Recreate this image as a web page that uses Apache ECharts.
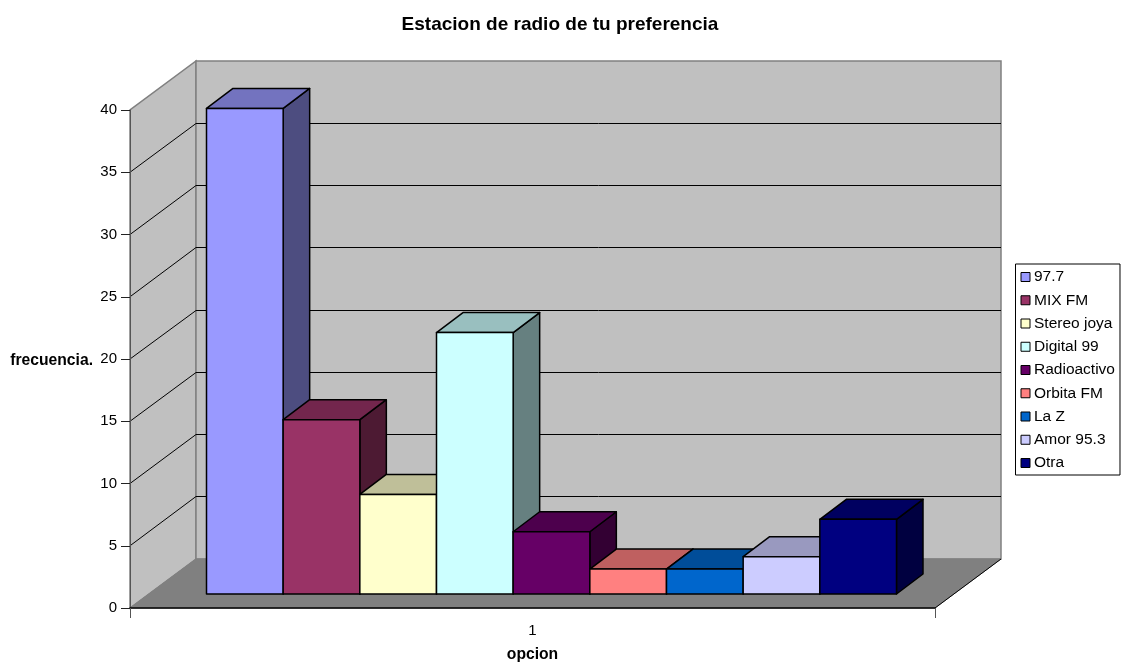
<!DOCTYPE html>
<html><head><meta charset="utf-8">
<style>html,body{margin:0;padding:0;background:#fff}#c{width:1121px;height:664px}</style>
<script src="https://cdn.jsdelivr.net/npm/echarts@6/dist/echarts.min.js"></script>
</head><body><div id="c"></div>
<script>
const categories = ['1'];
const yTicks = [0, 5, 10, 15, 20, 25, 30, 35, 40];
const stations = ['97.7','MIX FM','Stereo joya','Digital 99','Radioactivo','Orbita FM','La Z','Amor 95.3','Otra'];
const values = [39, 14, 8, 21, 5, 2, 2, 3, 6];
const colors = ['#9999FF','#993366','#FFFFCC','#CCFFFF','#660066','#FF8080','#0066CC','#CCCCFF','#000080'];

const WALL = {dx: 66, dy: -49};
const FRONT = {dx: 19, dy: -14};
const DEPTH = {dx: 26.5, dy: -20};
const GAP_BARS = 1.5;

function shade(hex, f) {
  const n = parseInt(hex.slice(1), 16);
  const c = [(n >> 16) & 255, (n >> 8) & 255, n & 255].map(v => Math.round(v * f));
  return 'rgb(' + c.join(',') + ')';
}

function wallItem(params, api) {
  const y = api.value(0);
  const c = api.coord([0, y]);
  const halfW = api.size([1, 0])[0] / 2;
  const x0 = c[0] - halfW, x1 = c[0] + halfW;
  const p0 = api.coord([0, 0])[1], pTop = api.coord([0, yTicks[yTicks.length - 1]])[1];
  const kids = [];
  const poly = (pts, fill, stroke, w) => ({type: 'polygon', shape: {points: pts},
    style: {fill: fill, stroke: stroke, lineWidth: w === undefined ? 1 : w}});
  const line = (a, b, stroke, w) => ({type: 'polyline', shape: {points: [a, b]},
    style: {fill: null, stroke: stroke, lineWidth: w}});
  if (params.dataIndex === 0) {
    kids.push(poly([[x0, p0], [x0 + WALL.dx, p0 + WALL.dy], [x0 + WALL.dx, pTop + WALL.dy], [x0, pTop]], '#C0C0C0', '#808080', 1.5));
    kids.push(poly([[x0 + WALL.dx, p0 + WALL.dy], [x1 + WALL.dx, p0 + WALL.dy], [x1 + WALL.dx, pTop + WALL.dy], [x0 + WALL.dx, pTop + WALL.dy]], '#C0C0C0', '#808080', 1.5));
    kids.push(poly([[x0, p0], [x1, p0], [x1 + WALL.dx, p0 + WALL.dy], [x0 + WALL.dx, p0 + WALL.dy]], '#808080', '#808080', 1));
    kids.push(line([x1, p0], [x1 + WALL.dx, p0 + WALL.dy], '#000', 1));
  }
  if (y > 0 && y < yTicks[yTicks.length - 1]) {
    const yy = Math.floor(c[1] + WALL.dy) + 0.5;
    kids.push({type: 'polyline', shape: {points: [[x0, c[1]], [x0 + WALL.dx, yy], [x1 + WALL.dx, yy]]},
      style: {fill: null, stroke: '#000', lineWidth: 1}});
  }
  return {type: 'group', children: kids};
}

function barItemFor(i) {
  return function (params, api) {
    const v = api.value(1);
    const base = api.coord([0, 0]);
    const top = api.coord([0, v]);
    const band = api.size([1, 0])[0];
    const w = band / (stations.length + GAP_BARS);
    const left = base[0] + FRONT.dx + (i - stations.length / 2) * w;
    const right = left + w;
    const yb = base[1] + FRONT.dy, yt = top[1] + FRONT.dy;
    const d = DEPTH;
    const st = {stroke: '#000', lineWidth: 1.5, lineJoin: 'round'};
    const face = (pts, fill) => ({type: 'polygon', shape: {points: pts}, style: Object.assign({fill: fill}, st)});
    return {type: 'group', children: [
      face([[right, yb], [right + d.dx, yb + d.dy], [right + d.dx, yt + d.dy], [right, yt]], shade(colors[i], 0.5)),
      face([[left, yt], [right, yt], [right + d.dx, yt + d.dy], [left + d.dx, yt + d.dy]], shade(colors[i], 0.75)),
      face([[left, yb], [right, yb], [right, yt], [left, yt]], colors[i])
    ]};
  };
}

const series = [{
  name: 'walls', type: 'custom', z: 1, silent: true, clip: false,
  renderItem: wallItem, data: yTicks.map(t => [t]), encode: {y: 0}
}].concat(stations.map((s, i) => ({
  name: s, type: 'custom', z: 2, clip: false,
  itemStyle: {color: colors[i], borderColor: '#000', borderWidth: 1},
  renderItem: barItemFor(i),
  data: [[0, values[i]]], encode: {x: 0, y: 1}
})));

const chart = echarts.init(document.getElementById('c'), null, {renderer: 'canvas'});
chart.setOption({
  animation: false,
  backgroundColor: '#fff',
  textStyle: {fontFamily: '"Liberation Sans", Arial, sans-serif'},
  title: {text: 'Estacion de radio de tu preferencia', left: 555, top: 10, textAlign: 'center',
    textStyle: {fontSize: 19, fontWeight: 'bold', color: '#000', fontFamily: '"Liberation Sans", Arial, sans-serif'}},
  grid: {left: 130, right: 186, top: 110, bottom: 56, outerBoundsMode: 'none'},
  legend: {
    orient: 'vertical', left: 1015.5, top: 264, data: stations, icon: 'rect',
    itemWidth: 9, itemHeight: 9, itemGap: 7.25,
    padding: [5, 5, 4, 5],
    backgroundColor: '#fff', borderColor: '#000', borderWidth: 1,
    itemStyle: {borderColor: '#000', borderWidth: 1},
    textStyle: {fontSize: 15.5, color: '#000', padding: [0, 0, 0, -1]},
    selectedMode: false
  },
  xAxis: {
    type: 'category', data: categories, z: 5,
    name: 'opcion', nameLocation: 'middle', nameGap: 39,
    nameTextStyle: {fontSize: 15.7, fontWeight: 'bold', color: '#000'},
    axisLine: {lineStyle: {color: '#000', width: 1.5}},
    axisTick: {show: true, alignWithLabel: false, length: 10, lineStyle: {color: '#555'}},
    axisLabel: {fontSize: 15, color: '#000', margin: 15},
    splitLine: {show: false}
  },
  yAxis: {
    type: 'value', min: 0, max: 40, interval: 5, z: 5,
    name: 'frecuencia.', nameLocation: 'middle', nameGap: 37, nameRotate: 0,
    nameTextStyle: {fontSize: 15.7, fontWeight: 'bold', color: '#000', align: 'right', verticalAlign: 'top', lineHeight: 4},
    axisLine: {show: true, lineStyle: {color: '#555', width: 1}},
    axisTick: {show: true, length: 9, lineStyle: {color: '#222'}},
    axisLabel: {fontSize: 15, color: '#000', margin: 13},
    splitLine: {show: false}
  },
  series: series
});
</script></body></html>
